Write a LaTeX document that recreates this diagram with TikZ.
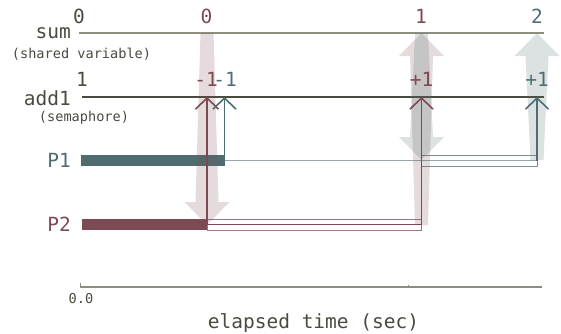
\documentclass[tikz,border=0pt]{standalone}
\usepackage{fontspec}
\setmonofont{DejaVu Sans Mono}
\usetikzlibrary{arrows.meta}
\definecolor{tealc}{HTML}{4F6D70}
\definecolor{pinkc}{HTML}{7B4A52}
\definecolor{txt}{HTML}{4A4A40}
\definecolor{sumc}{HTML}{8E8E80}
\newcommand\fatarrow[5]{% x, ysrc, ytip, dir(+1 down,-1 up), colour
  \fill[#5, fill opacity=0.2]
    ({#1-6.5},#2) -- ({#1+6.5},#2) -- ({#1+11.5},{#3-#4*23}) -- ({#1+22.5},{#3-#4*23})
    -- (#1,#3) -- ({#1-22.5},{#3-#4*23}) -- ({#1-11.5},{#3-#4*23}) -- cycle;}
\begin{document}
\begin{tikzpicture}[x=1pt,y=-1pt,
  lbl/.style={font=\fontsize{19.5}{19.5}\selectfont\ttfamily, text=txt, inner sep=0pt, anchor=base},
  num/.style={lbl},
  small/.style={font=\fontsize{13.6}{13.6}\selectfont\ttfamily, text=txt, inner sep=0pt, anchor=base},
  barb/.style={-{Straight Barb[length=11pt,width=23pt,line width=1.6pt]}, line width=1.6pt},
  pkline/.style={draw=pinkc, barb},
  tlline/.style={draw=tealc, barb},
  pkrect/.style={draw=pinkc, draw opacity=0.75, line width=1pt},
  tlrect/.style={draw=tealc, draw opacity=0.75, line width=1pt},
  tlconn/.style={draw=tealc, draw opacity=0.6, line width=1.2pt},
  pkconn/.style={draw=pinkc, line width=1.2pt}]
\useasboundingbox (0,0) rectangle (561,333);
% coordinates
\coordinate (sumL) at (79,33);  \coordinate (sumR) at (544,33);
\coordinate (addL) at (82,97);  \coordinate (addR) at (544,97);
\coordinate (p2start) at (82,224.5); \coordinate (p2end) at (207,224.5);
\coordinate (p1start) at (81,160.5); \coordinate (p1end) at (224.5,160.5);
\coordinate (p2dec) at (207,97); \coordinate (p1dec) at (224.5,97);
\coordinate (p2inc) at (421.5,97); \coordinate (p1inc) at (537,97);
% bars
\fill[tealc] (81,155) rectangle (224.5,166);
\fill[pinkc] (82,219) rectangle (207,230);
% waiting outlines
\draw[pkrect] (207,219) rectangle (421.5,230);
\draw[tlrect] (421.5,155) rectangle (537,166);
% level lines
\draw[sumc, line width=2pt] (sumL) -- (sumR);
\draw[txt, line width=1.3pt] (addL) -- (addR);
% big translucent arrows
\fatarrow{207}{33}{225}{1}{pinkc}
\fatarrow{421.5}{225}{33}{-1}{pinkc}
\fatarrow{421.5}{33}{160}{1}{tealc}
\fatarrow{537}{160}{33}{-1}{tealc}
% connectors
\draw[pkline] (p2end) -- (p2dec);
\draw[pkconn] (p2end) -- (p2end -| p2inc);
\draw[pkline] (p2end -| p2inc) -- (p2inc);
\draw[tlline] (p1end) -- (p1dec);
\draw[tlconn] (p1end) -- (p1end -| p1inc);
\draw[tlline] (p1end -| p1inc) -- (p1inc);
% labels
\node[num] (s0) at (79,23) {0};
\node[num, text=pinkc] (s1) at (206.5,23) {0};
\node[num, text=pinkc] (s2) at (421,23) {1};
\node[num, text=tealc] (s3) at (537,23) {2};
\node[lbl, anchor=base east] (sum) at (71,38.5) {sum};
\node[small] (sumsub) at (81.5,58) {(shared variable)};
\node[num] (a0) at (82,86) {1};
\node[num, text=pinkc] (a1) at (206,86) {-1};
\node[num, text=tealc] (a2) at (225,86) {-1};
\node[num, text=pinkc] (a3) at (421.5,86) {+1};
\node[num, text=tealc] (a4) at (537,86) {+1};
\node[lbl, anchor=base east] (add1) at (71,105) {add1};
\node[small] (add1sub) at (84,121) {(semaphore)};
\node[lbl, text=tealc, anchor=base east] (p1) at (71,167) {P1};
\node[lbl, text=pinkc, anchor=base east] (p2) at (71,231) {P2};
% time axis
\coordinate (axL) at (80,287); \coordinate (axR) at (542,287);
\draw[sumc, line width=1.3pt] (axL) -- (axR);
\draw[sumc, line width=1pt] (axL) -- ++(0,-4);
\draw[sumc, line width=1pt] (408,287) -- ++(0,-2.5);
\node[small] (t0) at (81,303) {0.0};
\node[lbl] (xl) at (313.5,328) {elapsed time (sec)};
\end{tikzpicture}
\end{document}
